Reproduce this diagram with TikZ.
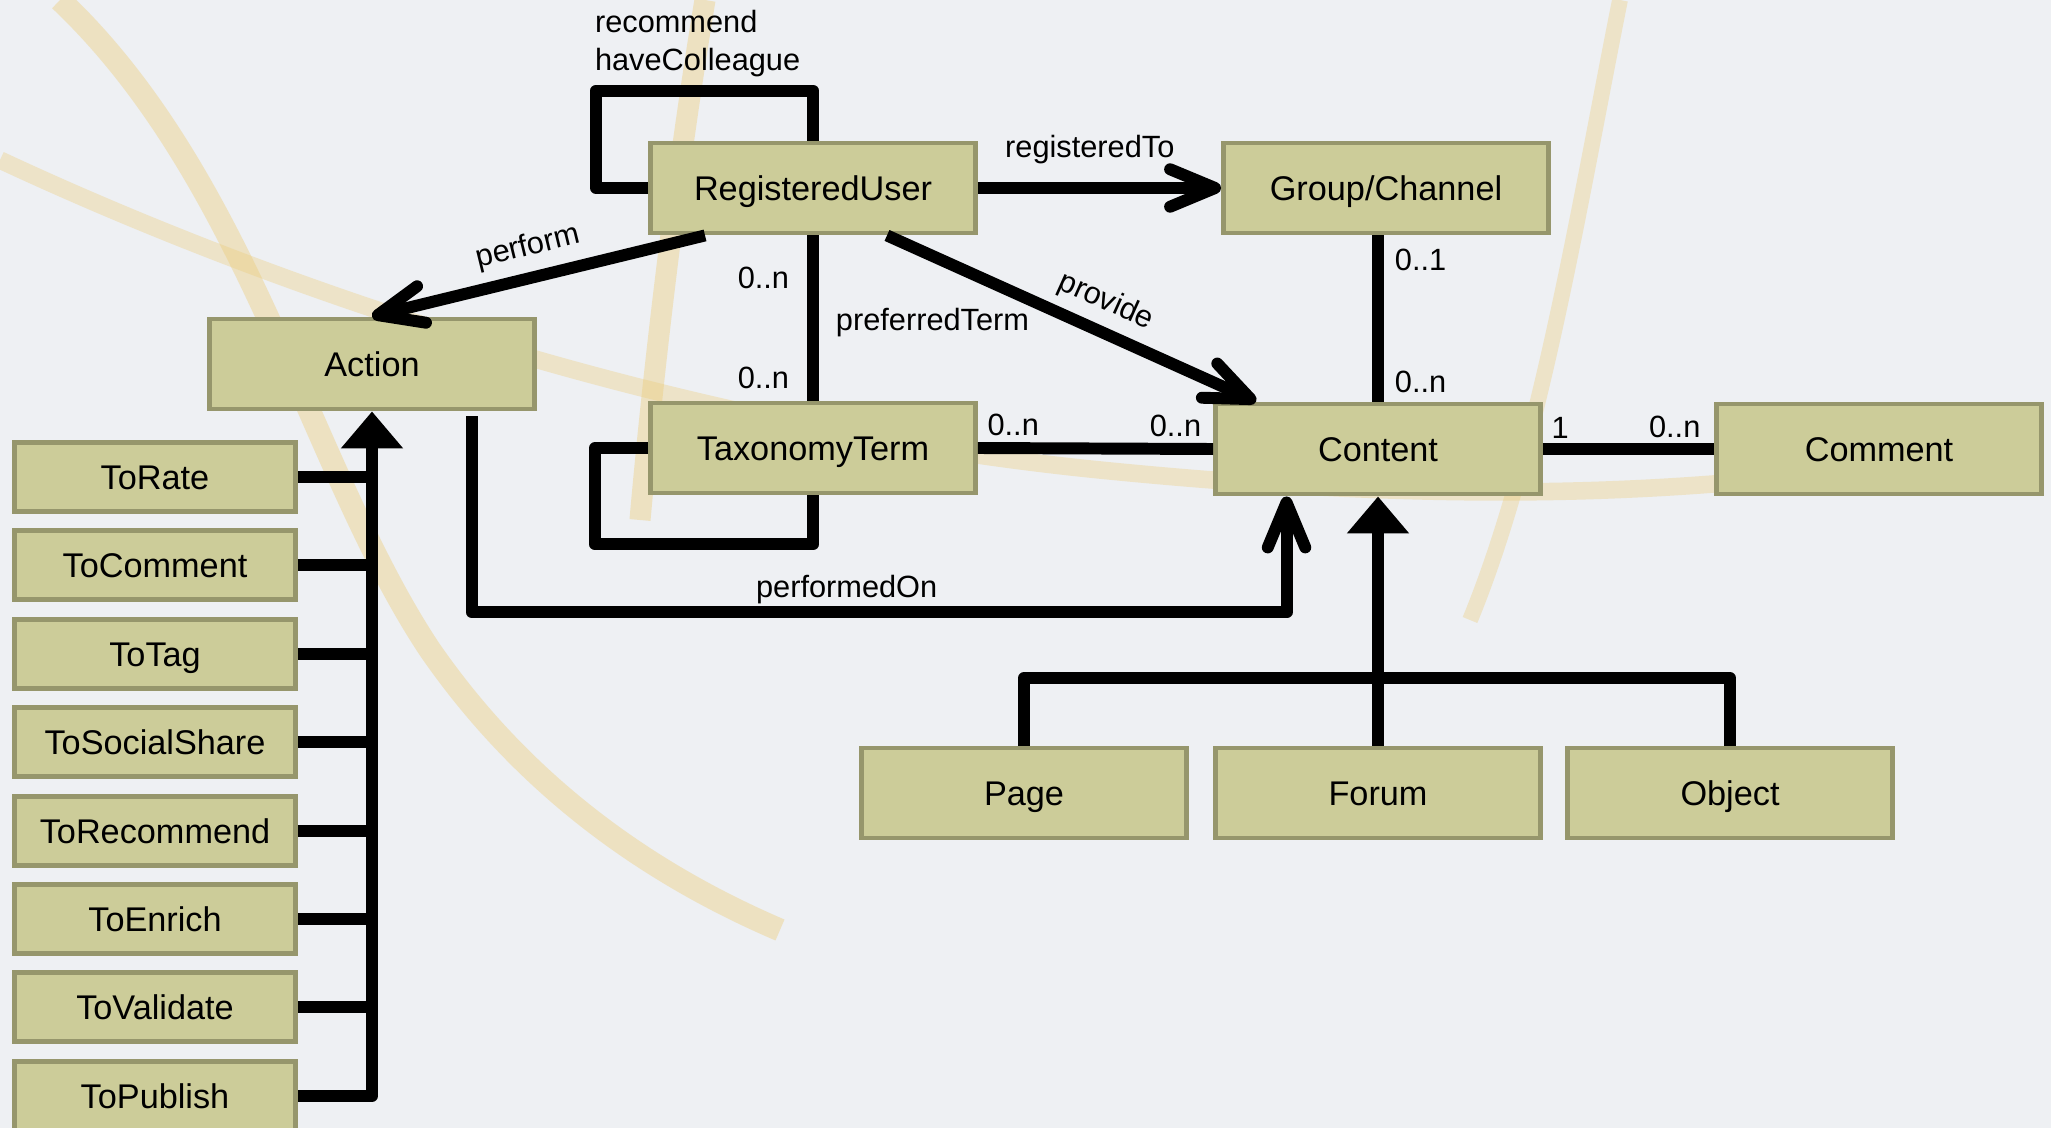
\documentclass[tikz,border=0pt]{standalone}
\usepackage{fontspec}
\setmainfont{Liberation Sans}
\usetikzlibrary{arrows.meta, positioning}

\definecolor{classfill}{RGB}{204,204,153}
\definecolor{classline}{RGB}{150,150,108}
\definecolor{slidebg}{RGB}{238,240,243}
\definecolor{swoosh}{RGB}{236,204,120}

\begin{document}
\begin{tikzpicture}[x=0.02cm, y=-0.02cm,
  cls/.style={draw=classline, fill=classfill, line width=2.8pt, minimum width=6.5cm,
    minimum height=1.8cm, text height=17pt, text depth=3pt, font=\fontsize{19.5}{23}\selectfont},
  sub/.style={cls, minimum width=5.62cm, minimum height=1.38cm},
  lbl/.style={font=\fontsize{17.5}{21.6}\selectfont, inner sep=0pt},
  assoc/.style={line width=6.8pt, line join=round},
  navig/.style={assoc, -{Straight Barb[length=0.9cm, width=0.75cm, round]}},
  inherit/.style={assoc, -{Triangle[length=0.74cm, width=1.2cm]}}]

% slide background
\fill[slidebg] (0,0) rectangle (2051,1128);
\useasboundingbox (0,0) rectangle (2051,1128);

% golden swooshes behind the diagram
\draw[swoosh, opacity=0.4, line width=13pt] (60,0) .. controls (250,180) and (310,470) .. (430,650)
  .. controls (520,780) and (640,870) .. (780,930);
\draw[swoosh, opacity=0.4, line width=12pt] (705,0) .. controls (680,150) and (655,350) .. (640,520);
\draw[swoosh, opacity=0.35, line width=10pt] (0,160) .. controls (300,300) and (700,430) .. (1100,470)
  .. controls (1400,500) and (1600,495) .. (1760,480);
\draw[swoosh, opacity=0.35, line width=9pt] (1620,0) .. controls (1580,200) and (1540,450) .. (1470,620);

% main classes
\node[cls] (user) at (813,188) {RegisteredUser};
\node[cls] (group) at (1386,188) {Group/Channel};
\node[cls] (action) at (372,364) {Action};
\node[cls] (term) at (813,448) {TaxonomyTerm};
\node[cls] (content) at (1378,449) {Content};
\node[cls] (comment) at (1879,449) {Comment};
\node[cls] (page) at (1024,793) {Page};
\node[cls] (forum) at (1378,793) {Forum};
\node[cls] (object) at (1730,793) {Object};

% kinds of action
\node[sub] (rate) at (155,477) {ToRate};
\node[sub] (remark) at (155,565) {ToComment};
\node[sub] (tag) at (155,654) {ToTag};
\node[sub] (share) at (155,742) {ToSocialShare};
\node[sub] (advise) at (155,831) {ToRecommend};
\node[sub] (enrich) at (155,919) {ToEnrich};
\node[sub] (valid) at (155,1007) {ToValidate};
\node[sub] (publish) at (155,1096) {ToPublish};

% self associations
\draw[assoc] (user.west) -- ++(-52,0) |- ([yshift=1cm]user.north)
  node[pos=0.5, lbl, anchor=south west, align=left, xshift=-0.14cm, yshift=0.16cm] {recommend\\haveColleague}
  -- (user.north);
\draw[assoc] (term.west) -- ++(-53,0) |- ([yshift=-0.98cm]term.south) -- (term.south);

% directed associations
\draw[navig] (user.east) -- (group.west) node[pos=0.46, above=0.37cm, lbl] {registeredTo};
\draw[navig] ([xshift=-2.16cm]user.south) -- (action.north) node[pos=0.51, sloped, above=0.2cm, lbl] {perform};
\draw[navig] ([xshift=1.48cm]user.south) -- ([xshift=0.86cm]content.north west)
  node[pos=0.56, sloped, above=0.18cm, lbl] {provide};
\draw[navig] ([xshift=2cm,yshift=-0.1cm]action.south) -- ++(0,196) -| ([xshift=-1.83cm]content.south)
  node[pos=0.23, above=0.06cm, lbl] {performedOn};

% plain associations with multiplicities
\draw[assoc] (user.south) -- (term.north)
  node[pos=0.26, left=0.36cm, lbl] {0..n}
  node[pos=0.53, right=0.34cm, lbl] {preferredTerm}
  node[pos=0.86, left=0.36cm, lbl] {0..n};
\draw[assoc] (term.east) -- (content.west)
  node[pos=0.15, above=0.12cm, lbl] {0..n}
  node[pos=0.84, above=0.12cm, lbl] {0..n};
\draw[assoc] (group.south -| content.north) -- (content.north)
  node[pos=0.15, right=0.22cm, lbl] {0..1}
  node[pos=0.88, right=0.22cm, lbl] {0..n};
\draw[assoc] (content.east) -- (comment.west)
  node[pos=0.1, above=0.1cm, lbl] {1}
  node[pos=0.77, above=0.1cm, lbl] {0..n};

% generalisation of content
\draw[inherit] (forum.north) -- (content.south);
\draw[assoc] (page.north) |- ([yshift=1.35cm]forum.north) -| (object.north);

% generalisation of action
\draw[inherit] (publish.east) -| (action.south);
\draw[assoc] (rate.east) -- (rate.east -| action.south);
\draw[assoc] (remark.east) -- (remark.east -| action.south);
\draw[assoc] (tag.east) -- (tag.east -| action.south);
\draw[assoc] (share.east) -- (share.east -| action.south);
\draw[assoc] (advise.east) -- (advise.east -| action.south);
\draw[assoc] (enrich.east) -- (enrich.east -| action.south);
\draw[assoc] (valid.east) -- (valid.east -| action.south);

\end{tikzpicture}
\end{document}
